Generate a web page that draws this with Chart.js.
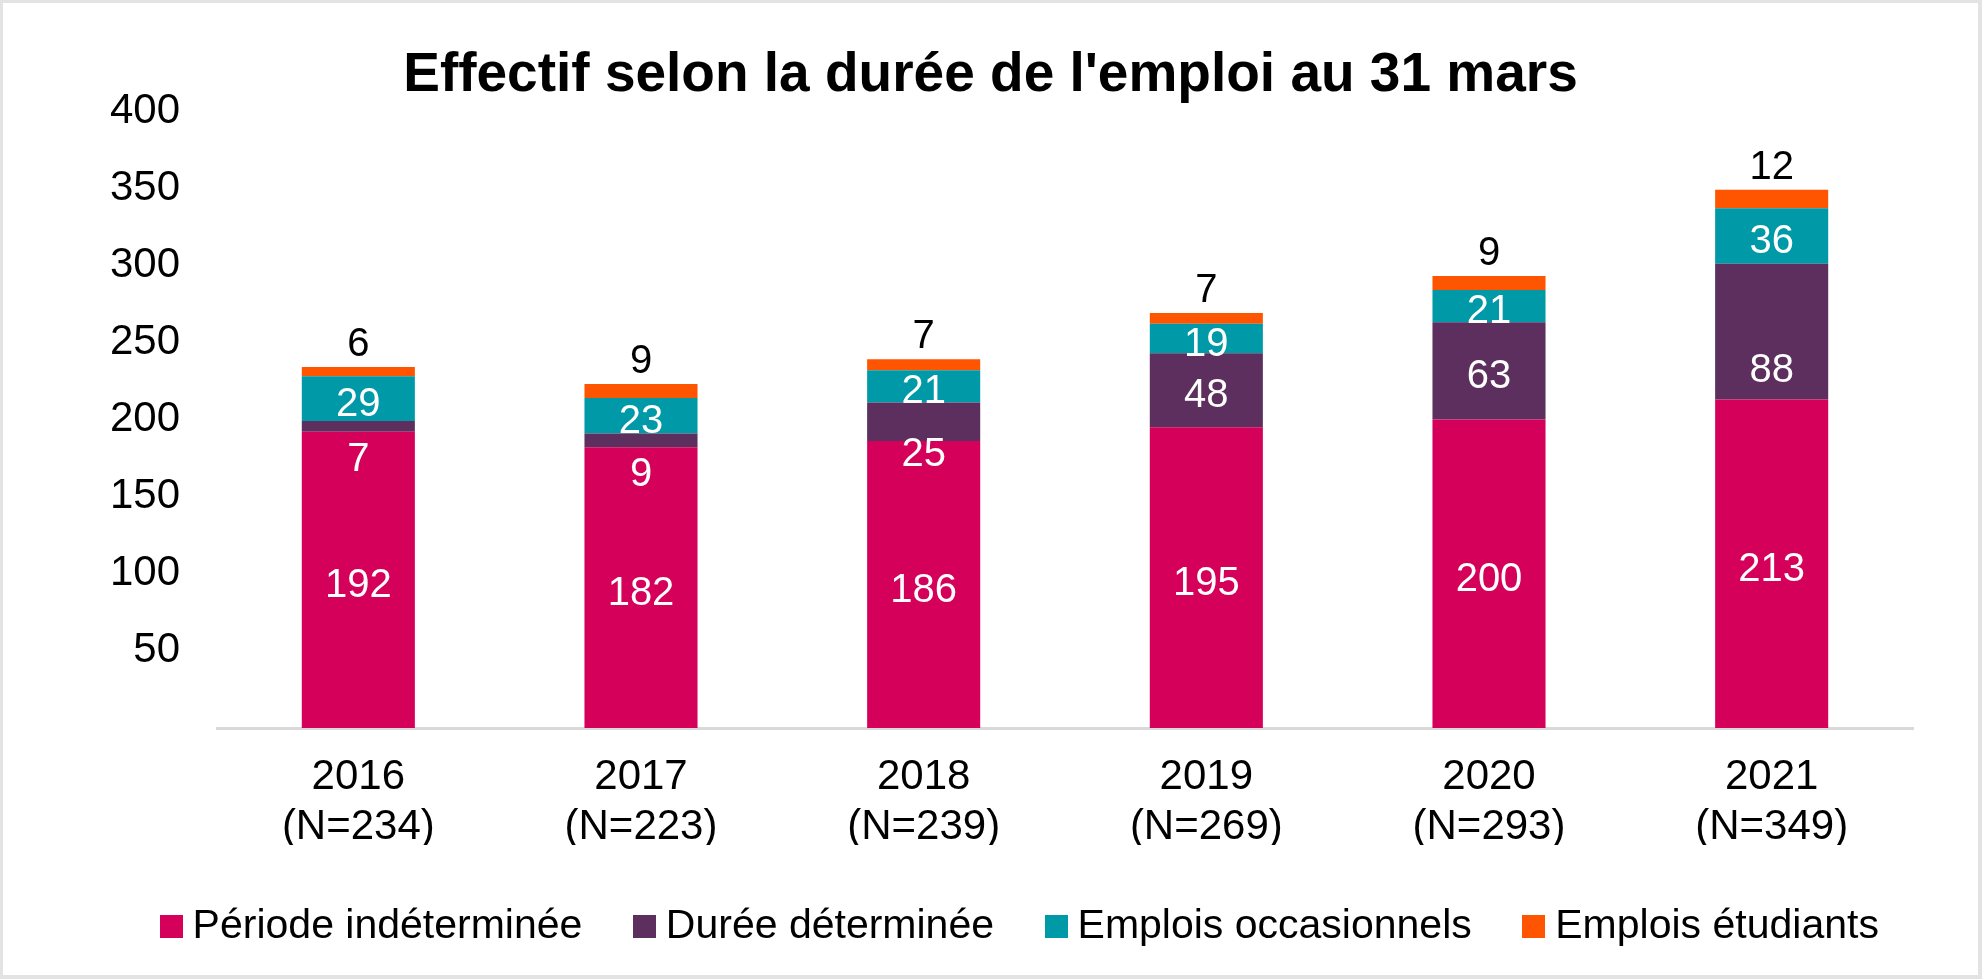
<!DOCTYPE html>
<html>
<head>
<meta charset="utf-8">
<script src="https://cdn.jsdelivr.net/npm/chart.js@4.4.1/dist/chart.umd.min.js"></script>
<style>
  html, body { margin: 0; padding: 0; background: #fff; }
  #wrap { width: 1982px; height: 979px; }
</style>
</head>
<body>
<div id="wrap"><canvas id="effectifChart" width="1982" height="979"></canvas></div>
<script>
var years = ['2016', '2017', '2018', '2019', '2020', '2021'];
var nLabels = ['(N=234)', '(N=223)', '(N=239)', '(N=269)', '(N=293)', '(N=349)'];

var indeterminee = [192, 182, 186, 195, 200, 213];
var determinee = [7, 9, 25, 48, 63, 88];
var occasionnels = [29, 23, 21, 19, 21, 36];
var etudiants = [6, 9, 7, 7, 9, 12];

var yTicks = [50, 100, 150, 200, 250, 300, 350, 400];

var colors = ['#d4005a', '#5c2f5e', '#0099a8', '#ff5500'];

var FONT = '"Liberation Sans", Arial, sans-serif';

// square swatches for the legend, so the text can sit close to the box
function swatch(color) {
    var c = document.createElement('canvas');
    c.width = 23;
    c.height = 23;
    var g = c.getContext('2d');
    g.fillStyle = color;
    g.fillRect(0, 0, 23, 23);
    return c;
}
var swatches = colors.map(swatch);

// white page with the thin grey frame around it
var frame = {
    id: 'frame',
    beforeDraw: function(chart) {
        var ctx = chart.ctx;
        ctx.save();
        ctx.fillStyle = '#e3e3e3';
        ctx.fillRect(0, 0, chart.width, chart.height);
        ctx.fillStyle = '#ffffff';
        ctx.fillRect(3, 3, chart.width - 7, chart.height - 7);
        ctx.restore();
    }
};

// title and legend are centred a bit to the right in the original
var shiftBlocks = {
    id: 'shiftBlocks',
    afterLayout: function(chart) {
        if (chart.titleBlock) {
            chart.titleBlock.left += 34;
            chart.titleBlock.right += 34;
        }
        if (chart.legend) {
            chart.legend.left += 68;
            chart.legend.right += 68;
        }
    }
};

var valueLabels = {
    id: 'valueLabels',
    afterDatasetsDraw: function(chart, args, opts) {
        var ctx = chart.ctx;
        var nudge = opts.nudge || {};
        ctx.save();
        ctx.font = '40px ' + FONT;
        ctx.textAlign = 'center';
        ctx.textBaseline = 'middle';
        chart.data.datasets.forEach(function(ds, i) {
            var meta = chart.getDatasetMeta(i);
            meta.data.forEach(function(bar, j) {
                var h = bar.base - bar.y;
                var y = (bar.y + bar.base) / 2 + 6;
                ctx.fillStyle = '#ffffff';
                if (i === 3) {
                    y = bar.y - 22;
                    ctx.fillStyle = '#000000';
                } else if (i === 1 && h < 45) {
                    // small segment: label sits just under it
                    y = bar.base + 28;
                }
                y += nudge[i + '-' + j] || 0;
                ctx.fillText(ds.data[j], bar.x, y);
            });
        });
        ctx.restore();
    }
};

var ctx = document.getElementById('effectifChart').getContext('2d');
var myChart = new Chart(ctx, {
    type: 'bar',
    data: {
        labels: years.map(function(y, i) { return [y, nLabels[i]]; }),
        datasets: [{
            label: 'Période indéterminée',
            data: indeterminee,
            backgroundColor: colors[0],
        }, {
            label: 'Durée déterminée',
            data: determinee,
            backgroundColor: colors[1],
        }, {
            label: 'Emplois occasionnels',
            data: occasionnels,
            backgroundColor: colors[2],
        }, {
            label: 'Emplois étudiants',
            data: etudiants,
            backgroundColor: colors[3],
        }, ],
    },
    options: {
        responsive: false,
        devicePixelRatio: 1,
        animation: false,
        categoryPercentage: 1,
        barPercentage: 0.4,
        layout: {
            padding: { top: 0, left: 0, right: 69, bottom: 22 },
        },
        plugins: {
            title: {
                display: true,
                text: "Effectif selon la durée de l'emploi au 31 mars",
                color: '#000000',
                font: { family: FONT, size: 55, weight: 'bold' },
                padding: { top: 43, bottom: 2 },
            },
            legend: {
                position: 'bottom',
                labels: {
                    color: '#000000',
                    font: { family: FONT, size: 41 },
                    usePointStyle: true,
                    pointStyleWidth: 2,
                    boxHeight: 22,
                    padding: 61,
                    generateLabels: function(chart) {
                        var items = Chart.defaults.plugins.legend.labels.generateLabels(chart);
                        items.forEach(function(item) {
                            item.pointStyle = swatches[item.datasetIndex];
                        });
                        return items;
                    },
                },
            },
            tooltip: { enabled: false },
            valueLabels: {
                nudge: { '1-2': -14, '1-5': 33 },
            },
        },
        scales: {
            x: {
                stacked: true,
                grid: { display: false },
                border: { display: true, color: '#d9d9d9', width: 3 },
                ticks: {
                    color: '#000000',
                    font: { family: FONT, size: 42 },
                    padding: 16,
                    maxRotation: 0,
                },
                afterFit: function(scale) { scale.height = 117; },
            },
            y: {
                stacked: true,
                min: 0,
                max: 400,
                grid: { display: false },
                border: { display: false },
                afterBuildTicks: function(scale) {
                    scale.ticks = yTicks.map(function(v) { return { value: v }; });
                },
                ticks: {
                    color: '#000000',
                    font: { family: FONT, size: 42 },
                    padding: 29,
                },
                afterFit: function(scale) { scale.width = 217; },
            },
        },
    },
    plugins: [frame, shiftBlocks, valueLabels],
});
</script>
</body>
</html>
